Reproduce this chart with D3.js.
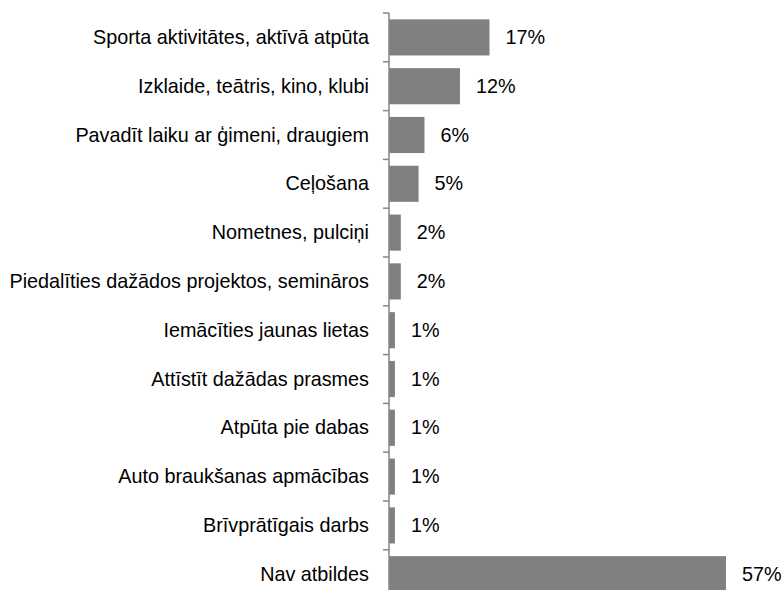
<!DOCTYPE html>
<html><head><meta charset="utf-8">
<script src="https://cdn.jsdelivr.net/npm/d3@7"></script>
<style>body{margin:0;background:#fff}svg{display:block}</style>
</head><body>
<svg id="c" width="783" height="590"></svg>
<script>
const categories = ["Sporta aktivitātes, aktīvā atpūta","Izklaide, teātris, kino, klubi","Pavadīt laiku ar ģimeni, draugiem","Ceļošana","Nometnes, pulciņi","Piedalīties dažādos projektos, semināros","Iemācīties jaunas lietas","Attīstīt dažādas prasmes","Atpūta pie dabas","Auto braukšanas apmācības","Brīvprātīgais darbs","Nav atbildes"];
const values = [17,12,6,5,2,2,1,1,1,1,1,57];
const valueLabels = ["17%","12%","6%","5%","2%","2%","1%","1%","1%","1%","1%","57%"];

const svg = d3.select("#c");
const x0 = 389, topY = 13, step = 48.8;
const x = d3.scaleLinear().domain([0,57]).range([x0, x0+337]);
const y = d3.scaleBand().domain(categories).range([topY, topY+step*categories.length]).paddingInner(0.26).paddingOuter(0.13);

const font = "Liberation Sans, Arial, sans-serif";
const fs = 19.8;
svg.selectAll("rect.bar").data(values).join("rect")
  .attr("x", x0).attr("y",(d,i)=>y(categories[i]))
  .attr("width", d=>x(d)-x0).attr("height", y.bandwidth())
  .attr("fill","#808080");

svg.selectAll("text.v").data(values).join("text")
  .attr("x", d=>x(d)+16).attr("y",(d,i)=>y(categories[i])+y.bandwidth()/2)
  .attr("dy","0.33em").attr("font-family",font).attr("font-size",fs).attr("fill","#000")
  .text((d,i)=>valueLabels[i]);

const axis = d3.axisLeft(y).tickSize(0).tickPadding(20);
const g = svg.append("g").attr("transform",`translate(${x0},0)`).call(axis);
g.select(".domain").attr("stroke","#868686").attr("stroke-width",1.5);
g.selectAll(".tick text").attr("font-family",font).attr("font-size",fs).attr("fill","#000").attr("dy","0.33em");
const bounds = d3.range(categories.length+1).map(i=>topY+step*i);
svg.selectAll("line.b").data(bounds).join("line")
  .attr("x1",x0-6).attr("x2",x0).attr("y1",d=>d).attr("y2",d=>d)
  .attr("stroke","#868686").attr("stroke-width",1.5);
g.select(".domain").attr("d",`M0,${topY}V${topY+step*categories.length}`);
</script>
</body></html>
